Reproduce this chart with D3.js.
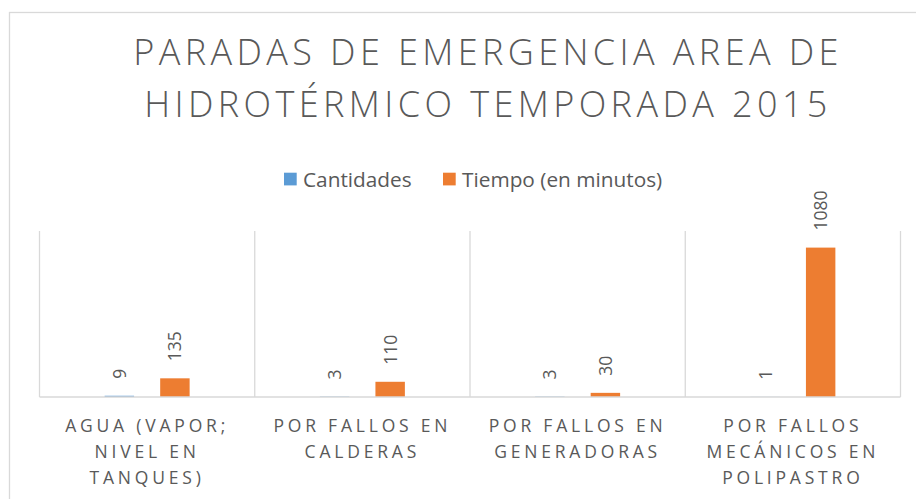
<!DOCTYPE html>
<html>
<head>
<meta charset="utf-8">
<script src="https://cdn.jsdelivr.net/npm/d3@7"></script>
<style>
  html, body { margin: 0; padding: 0; background: #fff; }
  svg { display: block; font-family: "Open Sans", "Noto Sans", sans-serif; }
</style>
</head>
<body>
<svg width="916" height="499"></svg>
<script>
// Category labels, already broken into lines as in the original
const categories = [
  ['AGUA (VAPOR;', 'NIVEL EN', 'TANQUES)'],
  ['POR FALLOS EN', 'CALDERAS'],
  ['POR FALLOS EN', 'GENERADORAS'],
  ['POR FALLOS', 'MECÁNICOS EN', 'POLIPASTRO']
];
const seriesNames = ['Cantidades', 'Tiempo (en minutos)'];
const cantidades = [9, 3, 3, 1];
const tiempo = [135, 110, 30, 1080];
const titleLines = ['PARADAS DE EMERGENCIA AREA DE', 'HIDROTÉRMICO TEMPORADA 2015'];

const colors = ['#5B9BD5', '#ED7D31'];
const textColor = '#595959';
const gridColor = '#d9d9d9';

const svg = d3.select('svg');
const plot = {left: 39.5, right: 900.5, top: 231, bottom: 397};

const keys = categories.map(d => d.join(' '));
const rows = keys.map((k, i) => ({key: k, values: [cantidades[i], tiempo[i]]}));

const x0 = d3.scaleBand()
  .domain(keys)
  .range([plot.left, plot.right]);

const x1 = d3.scaleBand()
  .domain(d3.range(seriesNames.length))
  .range([x0.bandwidth() / 2 - 42.5, x0.bandwidth() / 2 + 42.5])
  .paddingInner(0.47);

const y = d3.scaleLinear()
  .domain([0, 1200])
  .range([plot.bottom, plot.top]);

// chart frame (runs off the page to the right and bottom)
svg.append('rect')
  .attr('x', 9.5)
  .attr('y', 12.5)
  .attr('width', 1000)
  .attr('height', 600)
  .attr('fill', 'none')
  .attr('stroke', gridColor)
  .attr('stroke-width', 1.3);

// title
svg.append('text')
  .attr('x', 488)
  .attr('fill', textColor)
  .attr('font-size', 36)
  .attr('font-weight', 300)
  .attr('letter-spacing', 4.4)
  .attr('text-anchor', 'middle')
  .selectAll('tspan')
  .data(titleLines)
  .join('tspan')
    .attr('x', 488)
    .attr('y', (d, i) => 64.5 + i * 52.3)
    .text(d => d);

// legend
const legend = svg.append('g')
  .attr('font-size', 20.8)
  .attr('fill', textColor);
const legendX = [284, 443];
seriesNames.forEach((name, i) => {
  legend.append('rect')
    .attr('x', legendX[i])
    .attr('y', 172.7)
    .attr('width', 12.7)
    .attr('height', 12.7)
    .attr('fill', colors[i]);
  legend.append('text')
    .attr('x', legendX[i] + 19)
    .attr('y', 186.5)
    .text(name);
});

// vertical separators between categories
const bounds = keys.map(k => x0(k)).concat([plot.right]);
svg.append('g')
  .selectAll('line')
  .data(bounds)
  .join('line')
    .attr('x1', d => d)
    .attr('x2', d => d)
    .attr('y1', plot.top)
    .attr('y2', plot.bottom)
    .attr('stroke', gridColor)
    .attr('stroke-width', 1.3);

// bars
const groups = svg.append('g')
  .selectAll('g')
  .data(rows)
  .join('g')
    .attr('transform', d => `translate(${x0(d.key)},0)`);

groups.selectAll('rect')
  .data(d => d.values)
  .join('rect')
    .attr('x', (d, i) => x1(i))
    .attr('y', d => y(d))
    .attr('width', x1.bandwidth())
    .attr('height', d => y(0) - y(d))
    .attr('fill', (d, i) => colors[i]);

// value labels, rotated
groups.selectAll('text')
  .data(d => d.values)
  .join('text')
    .attr('transform', (d, i) => `translate(${x1(i) + x1.bandwidth() / 2 + 6.5},${y(d) - 17}) rotate(-90)`)
    .attr('font-size', 17.5)
    .attr('fill', textColor)
    .text(d => d);

// category axis line
svg.append('line')
  .attr('x1', plot.left)
  .attr('x2', plot.right)
  .attr('y1', plot.bottom)
  .attr('y2', plot.bottom)
  .attr('stroke', gridColor)
  .attr('stroke-width', 1.5);

// category labels
svg.append('g')
  .selectAll('text')
  .data(categories)
  .join('text')
    .attr('fill', textColor)
    .attr('font-size', 17.5)
    .attr('letter-spacing', 3.8)
    .attr('text-anchor', 'middle')
    .selectAll('tspan')
    .data((d, i) => d.map(line => ({line, key: keys[i]})))
    .join('tspan')
      .attr('x', d => x0(d.key) + x0.bandwidth() / 2)
      .attr('y', (d, j) => 432 + j * 25.8)
      .text(d => d.line);
</script>
</body>
</html>
